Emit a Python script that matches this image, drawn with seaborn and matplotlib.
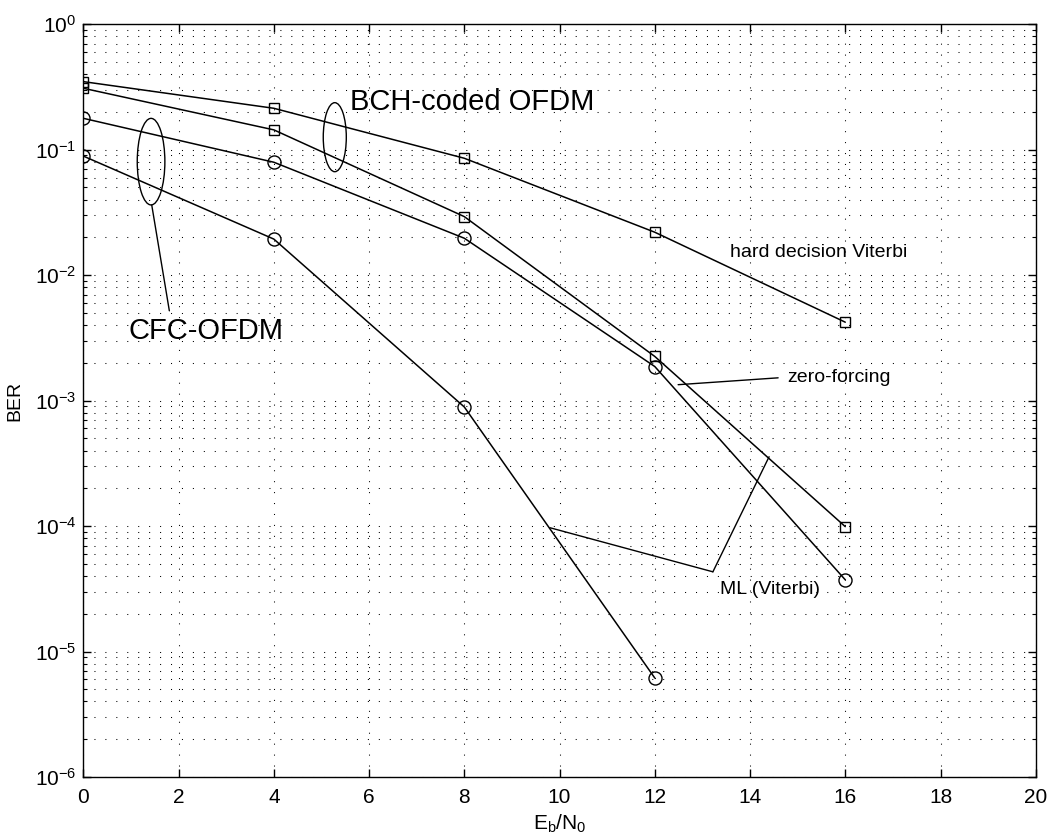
import matplotlib
matplotlib.use("Agg")
import matplotlib.pyplot as plt
from matplotlib.patches import Ellipse
from matplotlib.ticker import LogLocator, NullFormatter
import seaborn as sns

# Eb/N0 grid (dB)
snr_db = [0, 4, 8, 12, 16]
cfc_snr_db = [0, 4, 8, 12]

# BCH-coded OFDM (squares)
bch_hard_viterbi = [0.349, 0.214, 0.0855, 0.022, 0.00422]
bch_ml_viterbi = [0.309, 0.144, 0.0293, 0.00225, 9.9e-5]

# CFC-OFDM (circles)
cfc_zero_forcing = [0.178, 0.0795, 0.0197, 0.00187, 3.73e-5]
cfc_ml_viterbi = [0.089, 0.0194, 8.9e-4, 6.15e-6]

y_decades = [-6, -5, -4, -3, -2, -1, 0]
x_ticks = list(range(0, 21, 2))

sns.set_style("ticks")
plt.rcParams["font.family"] = ["Liberation Sans", "DejaVu Sans"]
plt.rcParams["mathtext.fontset"] = "custom"
plt.rcParams["mathtext.rm"] = "Liberation Sans"
plt.rcParams["mathtext.it"] = "Liberation Sans:italic"
plt.rcParams["text.color"] = "black"
plt.rcParams["axes.labelcolor"] = "black"
plt.rcParams["xtick.color"] = "black"
plt.rcParams["ytick.color"] = "black"

fig = plt.figure(figsize=(10.51, 8.4), dpi=100)
ax = fig.add_axes([0.0793, 0.075, 0.9062, 0.8961])

curves = [
    (snr_db, bch_hard_viterbi, "s", 7.2),
    (snr_db, bch_ml_viterbi, "s", 7.2),
    (snr_db, cfc_zero_forcing, "o", 9.4),
    (cfc_snr_db, cfc_ml_viterbi, "o", 9.4),
]
for xs, ys, mk, ms in curves:
    sns.lineplot(x=xs, y=ys, ax=ax, color="black", lw=1.1, marker=mk,
                 markersize=ms, markerfacecolor="none",
                 markeredgecolor="black", markeredgewidth=1.0)

ax.set_yscale("log")
ax.set_xlim(0, 20)
ax.set_ylim(1e-6, 1)
ax.set_xticks(x_ticks)
ax.set_xticklabels([str(v) for v in x_ticks])
ax.set_yticks([10.0 ** k for k in y_decades])
ax.set_yticklabels([r"$10^{%d}$" % k for k in y_decades])
ax.yaxis.set_minor_locator(LogLocator(base=10, subs=range(2, 10), numticks=100))
ax.yaxis.set_minor_formatter(NullFormatter())

# MATLAB-like dotted grid
dots = (0, (1, 9.5))
ax.grid(True, which="major", axis="both", ls=dots, color="black", lw=0.75)
ax.grid(True, which="minor", axis="y", ls=dots, color="black", lw=0.75)

ax.tick_params(which="both", direction="in", top=True, right=True)
ax.tick_params(which="major", length=6, width=1.0, labelsize=15)
ax.tick_params(which="minor", length=3, width=0.8)
ax.tick_params(axis="x", which="minor", bottom=False, top=False)
ax.tick_params(axis="x", pad=8)
ax.tick_params(axis="y", pad=5)
for sp in ax.spines.values():
    sp.set_linewidth(1.0)
    sp.set_color("black")

ax.set_xlabel(r"$\mathrm{E_b/N_0}$", fontsize=15, labelpad=4)
ax.set_ylabel("BER", fontsize=14, labelpad=8)

# annotations
line_kw = dict(arrowstyle="-", lw=1.0, color="black", shrinkA=0, shrinkB=0)

ax.text(13.58, 0.0151, "hard decision Viterbi", fontsize=14, va="center", ha="left")

ax.text(14.78, 1.52e-3, "zero-forcing", fontsize=14, va="center", ha="left")
ax.annotate("", xy=(12.49, 1.34e-3), xytext=(14.59, 1.52e-3), arrowprops=line_kw)

ax.text(13.37, 3.1e-5, "ML (Viterbi)", fontsize=14, va="center", ha="left")
ax.annotate("", xy=(9.80, 9.7e-5), xytext=(13.22, 4.32e-5), arrowprops=line_kw)
ax.annotate("", xy=(14.40, 3.57e-4), xytext=(13.22, 4.32e-5), arrowprops=line_kw)

ax.text(5.60, 0.24, "BCH-coded OFDM", fontsize=21, va="center", ha="left")
ax.add_patch(Ellipse((0.264, 0.850), 0.0242, 0.0917, transform=ax.transAxes,
                     fill=False, lw=1.0, ec="black"))

ax.text(0.945, 3.6e-3, "CFC-OFDM", fontsize=21, va="center", ha="left")
ax.add_patch(Ellipse((0.0711, 0.8175), 0.029, 0.115, transform=ax.transAxes,
                     fill=False, lw=1.0, ec="black"))
ax.annotate("", xy=(1.806, 5.2e-3), xytext=(1.436, 0.0363), arrowprops=line_kw)

fig.savefig("out.png", dpi=100)
